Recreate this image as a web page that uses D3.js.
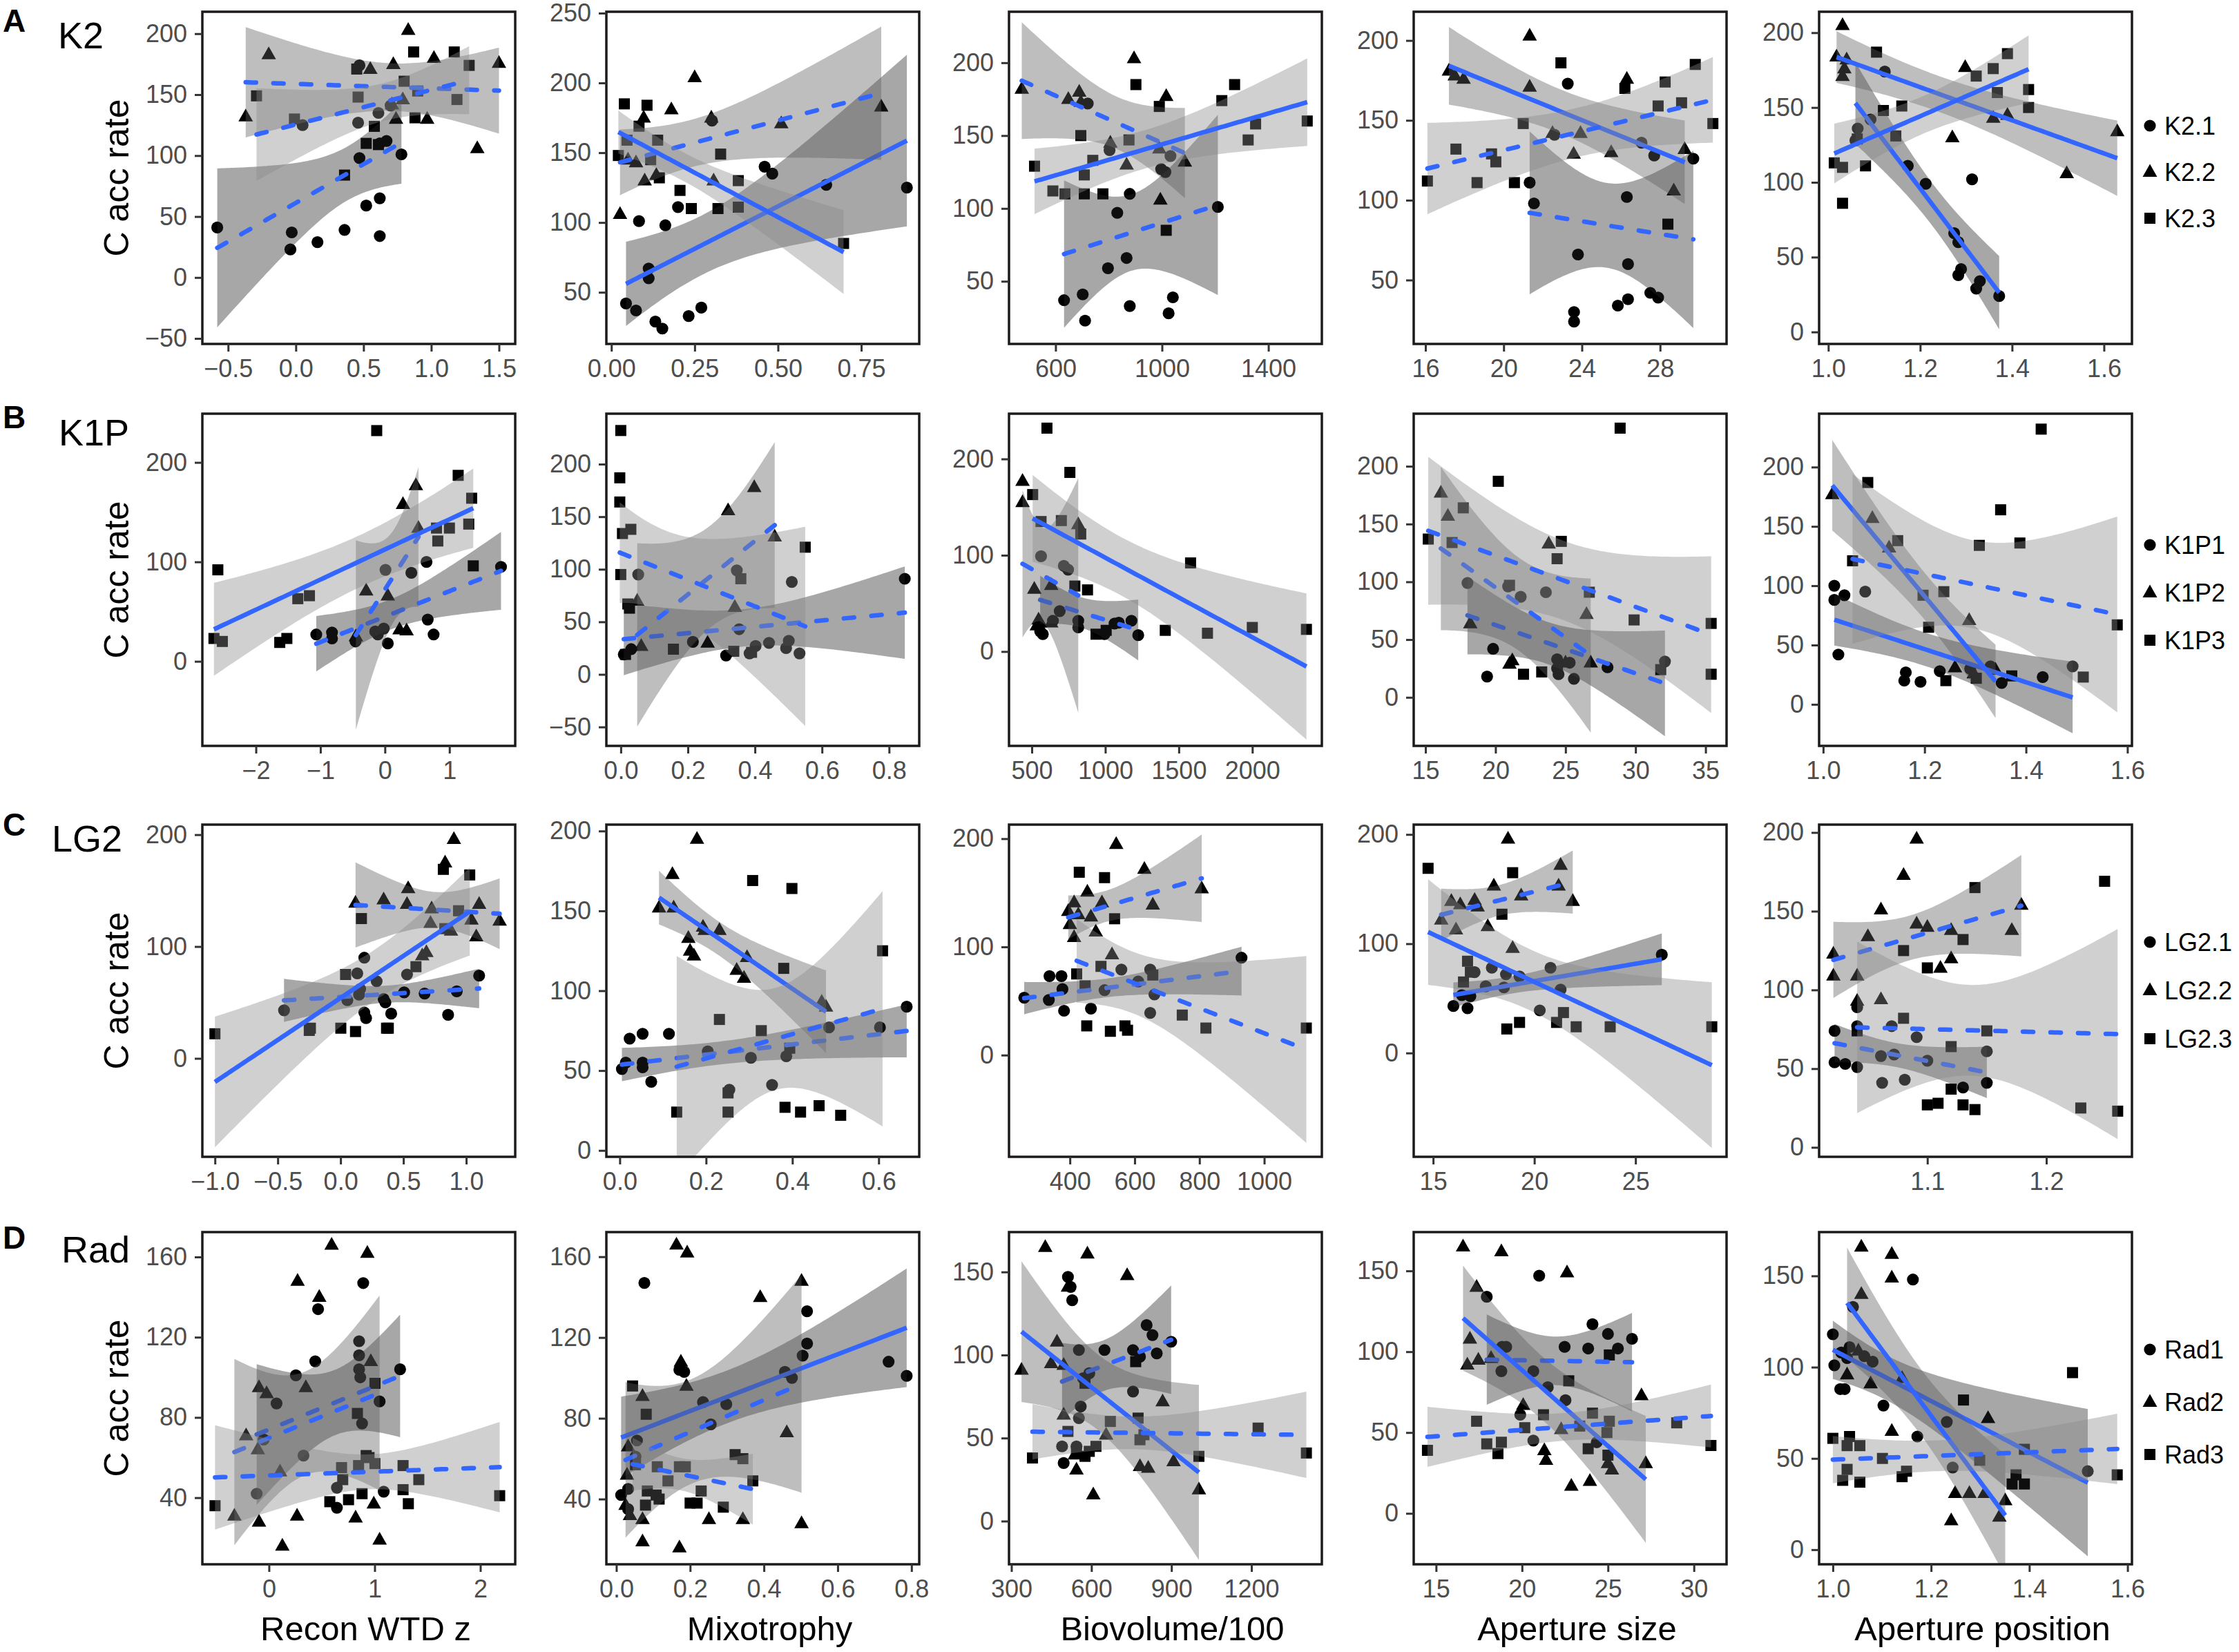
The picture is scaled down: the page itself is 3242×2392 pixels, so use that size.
<!DOCTYPE html>
<html>
<head>
<meta charset="utf-8">
<script src="https://cdn.jsdelivr.net/npm/d3@7"></script>
<style>
body { margin: 0; background: #fff; }
svg { display: block; }
text { font-family: "Liberation Sans", Arial, Helvetica, sans-serif; }
</style>
</head>
<body>
<svg id="chart" width="3242" height="2392"></svg>
<script>
// ---- labels ----
const rowLetters = ["A", "B", "C", "D"];
const rowNames = ["K2", "K1P", "LG2", "Rad"];
const groupLabels = [
    ["K2.1", "K2.2", "K2.3"],
    ["K1P1", "K1P2", "K1P3"],
    ["LG2.1", "LG2.2", "LG2.3"],
    ["Rad1", "Rad2", "Rad3"]
];
const xTitles = ["Recon WTD z", "Mixotrophy", "Biovolume/100", "Aperture size", "Aperture position"];
const yTitle = "C acc rate";

// ---- points, one array per panel: [circles, triangles, squares] ----
const k2_wtd = [
    [[-0.58,41],[-0.03,37],[-0.04,23],[0.16,29],[0.36,39],[0.47,98],[0.52,59],[0.62,65],[0.62,34],[0.78,101],[0.67,112],[0.62,110],[0.46,127],[0.05,125],[0.61,135],[0.47,174],[0.70,141]],
    [[-0.37,132],[-0.20,183],[0.55,171],[0.72,175],[0.83,203],[1.02,180],[1.50,176],[1.34,106],[0.97,130],[0.74,130],[0.79,146],[0.71,142]],
    [[-0.29,149],[-0.01,130],[0.45,171],[0.46,148],[0.58,124],[0.52,110],[0.61,109],[0.36,84],[0.80,161],[0.87,185],[1.17,185],[1.28,174],[1.19,146],[0.88,131],[0.90,153]]
];
const k2_mix = [
    [[0.044,42],[0.074,37],[0.132,29],[0.153,24],[0.232,33],[0.27,39],[0.112,60],[0.112,67],[0.083,101],[0.162,98],[0.302,173],[0.46,140],[0.483,135],[0.645,127],[0.887,125],[0.2,111]],
    [[0.026,106],[0.25,204],[0.18,181],[0.30,175],[0.51,171],[0.81,183],[0.097,175],[0.074,143],[0.10,130],[0.135,134],[0.307,130],[0.05,145]],
    [[0.039,185],[0.107,184],[0.021,148],[0.047,159],[0.083,169],[0.139,159],[0.118,145],[0.144,132],[0.328,149],[0.206,123],[0.24,110],[0.32,110],[0.381,130],[0.381,111],[0.697,85]]
];
const k2_bio = [
    [[632,37],[702,41],[711,23],[797,59],[832,97],[867,66],[879,33],[879,110],[1025,28],[1041,39],[1210,101],[997,127],[1013,125],[721,172],[803,140],[1032,136]],
    [[473,182],[648,175],[689,180],[695,173],[806,145],[867,130],[895,203],[990,141],[1016,177],[994,106],[1086,132]],
    [[521,129],[590,112],[635,110],[708,110],[778,110],[740,133],[708,123],[695,150],[876,147],[902,185],[990,170],[1016,85],[1225,174],[1273,185],[1324,147],[1352,158],[1546,160]]
];
const k2_ap = [
    [[21.33,111],[21.55,98],[23.28,173],[23.8,66],[23.6,30],[23.6,24],[25.84,34],[26.36,38],[26.36,60],[26.3,102],[27.05,136],[27.5,42],[27.9,39],[27.7,128],[29.7,126],[22.6,141]],
    [[17.2,181],[17.95,176],[21.33,203],[21.33,171],[22.5,142],[23.93,142],[23.58,129],[25.5,130],[26.3,176],[28.7,106],[29.26,132],[17.5,178]],
    [[16.1,112],[17.56,132],[18.64,111],[19.38,129],[19.6,124],[20.55,111],[21.0,148],[22.93,186],[26.2,170],[27.9,159],[28.26,174],[28.4,85],[29.1,161],[29.8,185],[30.7,148]]
];
const k2_pos = [
    [[1.064,136],[1.059,128],[1.092,142],[1.123,174],[1.173,111],[1.212,99],[1.313,102],[1.274,66],[1.283,60],[1.289,42],[1.283,38],[1.322,29],[1.33,34],[1.372,24]],
    [[1.031,205],[1.018,184],[1.04,182],[1.031,171],[1.27,130],[1.298,177],[1.359,143],[1.39,145],[1.519,106],[1.629,134],[1.035,176]],
    [[1.013,113],[1.031,110],[1.031,86],[1.081,111],[1.063,129],[1.105,187],[1.12,148],[1.16,151],[1.147,131],[1.322,171],[1.359,176],[1.368,160],[1.39,186],[1.436,162],[1.436,150]]
];

const k1p_wtd = [
    [[-1.064,27],[-0.82,29],[-0.82,23],[-0.455,20],[-0.11,27],[-0.018,33],[0.045,18],[0.664,42],[0.755,27],[0.009,92],[0.41,89],[0.645,100],[1.8,95],[-0.15,30]],
    [[-0.45,25],[-0.29,71],[0.045,66],[0.227,32],[0.28,158],[0.336,31],[0.48,177],[0.52,134]],
    [[-2.59,92],[-2.65,23],[-2.52,20],[-1.63,19],[-1.52,23],[-1.35,63],[-1.17,66],[-0.127,232],[0.8,134],[0.82,121],[1.0,134],[1.136,187],[1.3,138],[1.345,164],[1.37,96]]
];
const k1p_mix = [
    [[0.009,19],[0.031,24],[0.052,95],[0.215,31],[0.314,18],[0.353,43],[0.346,99],[0.384,20],[0.402,27],[0.442,30],[0.493,25],[0.501,32],[0.533,20],[0.51,88],[0.847,91]],
    [[0.049,70],[0.061,27],[0.259,30],[0.32,156],[0.398,178],[0.34,64],[0.459,131]],
    [[0.0,232],[-0.003,187],[-0.003,164],[0.005,134],[0.03,138],[0.0,95],[0.021,67],[0.026,63],[0.014,19],[0.157,24],[0.337,22],[0.358,91],[0.55,121],[0.39,21]]
];
const k1p_bio = [
    [[563,99],[718,89],[747,85],[690,42],[644,32],[575,18],[557,21],[816,32],[816,25],[1063,29],[1092,30],[1178,32],[1224,17],[994,18]],
    [[437,177],[437,155],[517,65],[632,69],[816,132],[534,27],[557,30],[632,30],[546,33]],
    [[603,232],[759,186],[506,163],[563,135],[701,136],[833,122],[793,68],[879,64],[937,18],[1006,22],[1408,22],[1580,92],[1695,19],[2000,25],[2368,23]]
];
const k1p_ap = [
    [[18.0,99],[19.83,42],[19.4,18],[20.9,96],[21.8,87],[23.6,91],[24.4,33],[24.4,25],[24.5,20],[25.6,16],[25.3,30],[28.0,26],[32.1,31]],
    [[16.1,177],[16.6,157],[23.8,133],[26.5,72],[18.2,64],[21.2,32],[21.0,29],[25.0,30],[26.8,30]],
    [[15.2,137],[16.9,134],[17.7,164],[20.2,187],[21.0,97],[22.0,20],[23.3,22],[24.7,135],[24.4,120],[26.7,91],[28.9,233],[29.9,67],[31.8,24],[35.4,64],[35.4,20]]
];
const k1p_pos = [
    [[1.022,100],[1.022,88],[1.042,92],[1.083,95],[1.03,42],[1.163,27],[1.16,20],[1.192,19],[1.23,28],[1.33,32],[1.352,18],[1.433,23],[1.492,32],[1.29,30]],
    [[1.018,177],[1.097,157],[1.13,132],[1.288,71],[1.26,31],[1.297,26],[1.34,29]],
    [[1.058,121],[1.088,187],[1.147,138],[1.197,92],[1.208,65],[1.238,95],[1.242,20],[1.302,22],[1.308,134],[1.35,164],[1.372,24],[1.388,136],[1.43,232],[1.513,23],[1.58,67]]
];

const lg2_wtd = [
    [[-0.45,43],[0.054,52],[0.133,76],[0.147,57],[0.189,90],[0.189,41],[0.203,36],[0.287,69],[0.343,53],[0.357,50],[0.403,40],[0.506,59],[0.529,75],[0.669,58],[0.856,39],[0.925,60],[1.103,74],[0.156,62]],
    [[0.119,139],[0.343,142],[0.538,152],[0.529,138],[0.725,134],[0.716,121],[0.832,175],[0.902,196],[0.879,114],[1.042,124],[1.103,138],[1.08,109],[1.266,123],[0.683,95],[0.65,92]],
    [[-1.0,22],[-0.249,25],[-0.24,27],[0.002,27],[0.119,24],[0.04,75],[0.166,125],[0.366,27],[0.38,27],[0.6,82],[0.818,169],[1.028,164],[0.939,132],[0.83,116]]
];
const lg2_mix = [
    [[0.005,51],[0.014,55],[0.023,70],[0.053,73],[0.053,55],[0.053,52],[0.073,43],[0.114,73],[0.204,62],[0.254,38],[0.304,58],[0.353,41],[0.386,59],[0.485,77],[0.603,77],[0.665,90]],
    [[0.091,152],[0.122,173],[0.125,152],[0.179,195],[0.159,133],[0.163,125],[0.172,122],[0.193,140],[0.197,138],[0.231,138],[0.271,113],[0.295,121],[0.288,108],[0.468,93],[0.478,90]],
    [[0.132,24],[0.231,82],[0.251,36],[0.251,24],[0.308,169],[0.328,75],[0.38,114],[0.383,27],[0.394,64],[0.399,164],[0.419,24],[0.462,28],[0.512,22],[0.609,125]]
];
const lg2_bio = [
    [[259,53],[335,51],[337,73],[374,73],[377,61],[382,41],[465,43],[507,60],[559,79],[611,68],[648,79],[661,56],[648,39],[930,90]],
    [[395,133],[413,141],[400,121],[413,109],[454,151],[465,128],[480,114],[499,141],[543,195],[530,93],[630,172],[656,139],[807,154],[426,130]],
    [[429,169],[507,164],[538,126],[421,75],[447,64],[496,82],[452,27],[525,22],[570,27],[578,23],[656,74],[747,37],[820,25],[1130,25]]
];
const lg2_ap = [
    [[16.0,43],[16.7,41],[16.42,53],[16.84,52],[17.05,74],[17.6,61],[17.9,78],[18.5,60],[18.6,72],[19.27,70],[20.27,39],[20.8,78],[21.3,58],[26.3,90]],
    [[15.4,122],[15.9,139],[16.34,136],[16.13,113],[17.05,140],[17.2,134],[17.7,116],[18.0,153],[18.7,196],[18.93,96],[19.35,144],[21.3,172],[21.2,153],[21.9,139]],
    [[14.75,169],[18.93,165],[18.4,127],[16.7,84],[16.84,74],[16.5,65],[18.64,22],[19.27,28],[21.1,28],[21.44,37],[22.07,24],[23.75,24],[28.77,24]]
];
const lg2_pos = [
    [[1.022,74],[1.022,54],[1.031,53],[1.041,51],[1.041,89],[1.041,77],[1.061,58],[1.072,59],[1.07,77],[1.062,41],[1.081,43],[1.091,70],[1.1,55],[1.13,38],[1.15,41],[1.15,61]],
    [[1.021,123],[1.021,109],[1.041,109],[1.05,134],[1.061,94],[1.061,151],[1.08,173],[1.091,196],[1.091,142],[1.1,140],[1.111,114],[1.12,120],[1.12,138],[1.171,138],[1.179,154],[1.041,93]],
    [[1.041,74],[1.08,82],[1.08,125],[1.1,114],[1.1,27],[1.109,28],[1.12,64],[1.12,37],[1.13,132],[1.13,27],[1.14,24],[1.14,165],[1.15,74],[1.229,25],[1.249,169],[1.26,23]]
];

const rad_wtd = [
    [[-0.116,42],[-0.05,69],[0.072,87],[0.255,101],[0.327,61],[0.438,108],[0.465,134],[0.643,45],[0.643,35],[0.853,118],[0.853,111],[0.853,104],[0.864,100],[0.881,77],[0.892,147],[1.047,88],[1.086,43],[1.241,104]],
    [[-0.327,31],[-0.094,28],[-0.094,95],[-0.022,92],[-0.216,71],[-0.105,64],[0.127,16],[0.105,53],[0.266,31],[0.271,148],[0.349,95],[0.476,140],[0.593,166],[0.82,30],[0.931,162],[0.964,108],[0.992,37],[1.047,19]],
    [[-0.51,36],[0.576,38],[0.687,55],[0.698,49],[0.753,39],[0.848,56],[0.881,42],[0.92,61],[0.947,60],[1.003,57],[1.003,97],[0.837,82],[1.269,56],[1.269,44],[1.319,37],[1.418,49],[2.183,41]]
];
const rad_mix = [
    [[0.013,42],[0.032,45],[0.032,35],[0.052,61],[0.056,69],[0.076,147],[0.171,104],[0.184,103],[0.235,88],[0.256,77],[0.298,87],[0.457,103],[0.476,100],[0.505,111],[0.517,117],[0.517,133],[0.738,108],[0.787,101]],
    [[0.025,37],[0.037,32],[0.029,52],[0.032,66],[0.071,91],[0.071,30],[0.071,19],[0.163,166],[0.171,16],[0.175,108],[0.192,162],[0.19,96],[0.251,30],[0.343,30],[0.39,140],[0.462,73],[0.502,148],[0.502,28]],
    [[0.044,96],[0.081,82],[0.052,57],[0.084,44],[0.079,37],[0.108,42],[0.116,40],[0.111,56],[0.14,49],[0.171,56],[0.187,56],[0.2,38],[0.219,38],[0.23,44],[0.29,36],[0.322,62],[0.343,60],[0.37,49]]
];
const rad_bio = [
    [[512,147],[522,141],[528,133],[553,103],[592,89],[569,86],[560,69],[553,62],[649,103],[756,103],[756,78],[782,99],[807,118],[829,112],[845,101],[899,108],[490,45],[496,35],[544,45]],
    [[338,91],[427,165],[449,95],[471,108],[496,94],[496,64],[512,141],[538,40],[544,31],[585,161],[607,16],[655,52],[734,148],[782,33],[813,32],[867,72],[908,36],[1003,19]],
    [[379,38],[512,54],[544,41],[576,39],[592,42],[617,45],[671,60],[775,62],[782,49],[576,83],[766,96],[1003,39],[1225,56],[1406,41],[797,52]]
];
const rad_ap = [
    [[17.95,134],[18.84,103],[19.08,103],[18.8,88],[19.9,61],[20.66,45],[20.66,88],[21.0,147],[21.5,78],[22.48,103],[22.53,70],[23.85,102],[24.1,117],[25.0,111],[25.58,102],[26.4,108],[24.35,44]],
    [[16.57,165],[18.8,162],[17.36,140],[16.97,108],[16.82,92],[17.46,95],[18.2,96],[20.07,67],[21.3,39],[21.4,33],[22.28,52],[22.62,149],[22.87,17],[23.95,20],[25.0,31],[25.23,27],[26.95,73],[27.2,31]],
    [[14.5,39],[17.36,57],[17.95,43],[18.8,44],[18.6,37],[20.16,53],[21.25,61],[22.72,82],[23.36,54],[24.1,62],[23.85,40],[24.94,50],[25.08,98],[25.08,57],[29.0,56],[30.99,42],[25.0,36]]
];
const rad_pos = [
    [[1.0,118],[1.003,101],[1.015,88],[1.024,88],[1.034,111],[1.029,105],[1.041,133],[1.064,106],[1.081,103],[1.103,79],[1.163,148],[1.172,62],[1.232,70],[1.244,45],[1.519,43],[1.017,108]],
    [[1.058,166],[1.12,162],[1.12,149],[1.058,140],[1.052,109],[1.029,96],[1.077,91],[1.141,94],[1.12,65],[1.241,16],[1.249,31],[1.278,31],[1.309,31],[1.339,18],[1.351,27],[1.316,72]],
    [[1.0,61],[1.034,62],[1.055,57],[1.029,57],[1.029,44],[1.02,38],[1.055,37],[1.101,50],[1.141,40],[1.15,43],[1.266,82],[1.299,49],[1.373,41],[1.39,55],[1.39,36],[1.488,97],[1.579,41],[1.365,36]]
];

// which fits are drawn solid (1) vs dashed (0), per panel [circle, triangle, square]
const solidFits = [
    [[0,0,0],[1,0,1],[0,0,1],[0,1,0],[1,1,1]],
    [[0,0,1],[0,0,0],[0,0,1],[0,0,0],[1,1,0]],
    [[0,0,1],[0,1,0],[0,0,0],[1,0,1],[0,0,0]],
    [[0,0,0],[1,0,0],[0,1,0],[0,1,0],[1,1,0]]
];

// ---- axes ----
const xDomains = [
    [[-0.69,1.62],[-0.015,0.924],[425,1601],[15.4,31.4],[0.98,1.661]],
    [[-2.83,2.02],[-0.043,0.89],[345,2473],[14.16,36.5],[0.992,1.609]],
    [[-1.1,1.39],[-0.031,0.694],[212,1178],[14.04,29.5],[1.009,1.272]],
    [[-0.63,2.33],[-0.027,0.821],[291,1464],[13.7,31.9],[0.972,1.609]]
];
const yDomains = [
    [[-54.5,218],[13,251],[7,235],[10,218],[-8,214]],
    [[-85,249],[-68,248],[-98,247],[-42,245.5],[-35,245]],
    [[-88,209],[-4,204],[-94,213],[-95,209],[-6,205]],
    [[6.8,172.4],[7.7,172.2],[-26,174],[-31.5,174],[-8,174]]
];
const xTicks = [
    [[-0.5,0,0.5,1,1.5],[0,0.25,0.5,0.75],[600,1000,1400],[16,20,24,28],[1.0,1.2,1.4,1.6]],
    [[-2,-1,0,1],[0,0.2,0.4,0.6,0.8],[500,1000,1500,2000],[15,20,25,30,35],[1.0,1.2,1.4,1.6]],
    [[-1,-0.5,0,0.5,1],[0,0.2,0.4,0.6],[400,600,800,1000],[15,20,25],[1.1,1.2]],
    [[0,1,2],[0,0.2,0.4,0.6,0.8],[300,600,900,1200],[15,20,25,30],[1.0,1.2,1.4,1.6]]
];
const xFormats = [
    [".1f", ".2f", "d", "d", ".1f"],
    ["d", ".1f", "d", "d", ".1f"],
    [".1f", ".1f", "d", "d", ".1f"],
    ["d", ".1f", "d", "d", ".1f"]
];
const yTicks = [
    [[-50,0,50,100,150,200],[50,100,150,200,250],[50,100,150,200],[50,100,150,200],[0,50,100,150,200]],
    [[0,100,200],[-50,0,50,100,150,200],[0,100,200],[0,50,100,150,200],[0,50,100,150,200]],
    [[0,100,200],[0,50,100,150,200],[0,100,200],[0,100,200],[0,50,100,150,200]],
    [[40,80,120,160],[40,80,120,160],[0,50,100,150],[0,50,100,150],[0,50,100,150]]
];

const panelData = [
    [k2_wtd, k2_mix, k2_bio, k2_ap, k2_pos],
    [k1p_wtd, k1p_mix, k1p_bio, k1p_ap, k1p_pos],
    [lg2_wtd, lg2_mix, lg2_bio, lg2_ap, lg2_pos],
    [rad_wtd, rad_mix, rad_bio, rad_ap, rad_pos]
];

// ---- layout ----
const panelLeft = [293, 878, 1461, 2047, 2634];
const rowTop = [17, 599, 1194, 1784];
const panelW = 453, panelH = 481;
const blue = "#3366FF";
const bandFill = ["rgba(34,34,34,0.4)", "rgba(92,92,92,0.4)", "rgba(138,138,138,0.4)"];
const letterPos = [[4, 46], [4, 620], [4, 1210], [4, 1808]];
const namePos = [[84, 70], [85, 645], [75, 1233], [89, 1828]];
const legendMid = [249, 858, 1434, 2030];
const legendGap = [67, 69, 70, 76];

const svg = d3.select("#chart");
svg.append("rect").attr("width", 3242).attr("height", 2392).attr("fill", "#fff");

// 95% t quantile (Cornish-Fisher expansion)
function tq975(df) {
    const z = 1.959964;
    return z + (z ** 3 + z) / (4 * df)
        + (5 * z ** 5 + 16 * z ** 3 + 3 * z) / (96 * df ** 2)
        + (3 * z ** 7 + 19 * z ** 5 + 17 * z ** 3 - 15 * z) / (384 * df ** 3)
        + (79 * z ** 9 + 776 * z ** 7 + 1482 * z ** 5 - 1920 * z ** 3 - 945 * z) / (92160 * df ** 4);
}

// lm fit with 95% confidence band, like geom_smooth(method = "lm")
function lmBand(pts) {
    let n = pts.length;
    let mx = d3.mean(pts, p => p[0]);
    let my = d3.mean(pts, p => p[1]);
    let sxx = d3.sum(pts, p => (p[0] - mx) ** 2);
    let sxy = d3.sum(pts, p => (p[0] - mx) * (p[1] - my));
    let b = sxy / sxx;
    let a = my - b * mx;
    let s2 = d3.sum(pts, p => (p[1] - a - b * p[0]) ** 2) / (n - 2);
    let t = tq975(n - 2);
    let [x0, x1] = d3.extent(pts, p => p[0]);
    return d3.range(80).map(i => {
        let x = x0 + (x1 - x0) * i / 79;
        let fit = a + b * x;
        let se = Math.sqrt(s2 * (1 / n + (x - mx) ** 2 / sxx));
        return { x: x, fit: fit, lo: fit - t * se, hi: fit + t * se };
    });
}

function drawShape(sel, k, cx, cy) {
    if (k === 0) {
        sel.append("circle").attr("cx", cx).attr("cy", cy).attr("r", 8.6).attr("fill", "#000");
    } else if (k === 1) {
        sel.append("path")
            .attr("d", `M${cx},${cy - 11.5}L${cx + 10.5},${cy + 7}L${cx - 10.5},${cy + 7}Z`)
            .attr("fill", "#000");
    } else {
        sel.append("rect").attr("x", cx - 8).attr("y", cy - 8)
            .attr("width", 16).attr("height", 16).attr("fill", "#000");
    }
}

for (let r = 0; r < 4; r++) {
    for (let c = 0; c < 5; c++) {
        let g = svg.append("g").attr("transform", `translate(${panelLeft[c]},${rowTop[r]})`);
        let x = d3.scaleLinear().domain(xDomains[r][c]).range([0, panelW]);
        let y = d3.scaleLinear().domain(yDomains[r][c]).range([panelH, 0]);
        let groups = panelData[r][c];

        let clipId = `clip-${r}-${c}`;
        g.append("clipPath").attr("id", clipId)
            .append("rect").attr("width", panelW).attr("height", panelH);
        let plot = g.append("g").attr("clip-path", `url(#${clipId})`);

        // points first, the ribbons lie over them
        groups.forEach((pts, k) => {
            pts.forEach(p => drawShape(plot, k, x(p[0]), y(p[1])));
        });

        // each group: ribbon then its fit line
        groups.forEach((pts, k) => {
            let band = lmBand(pts);
            plot.append("path")
                .datum(band)
                .attr("fill", bandFill[k])
                .attr("d", d3.area().x(d => x(d.x)).y0(d => y(d.lo)).y1(d => y(d.hi)));
            let solid = solidFits[r][c][k] === 1;
            plot.append("path")
                .datum(band)
                .attr("fill", "none")
                .attr("stroke", blue)
                .attr("stroke-width", 6.5)
                .attr("stroke-linecap", solid ? "butt" : "round")
                .attr("stroke-dasharray", solid ? null : "15 25")
                .attr("d", d3.line().x(d => x(d.x)).y(d => y(d.fit)));
        });

        // frame
        g.append("rect")
            .attr("width", panelW).attr("height", panelH)
            .attr("fill", "none").attr("stroke", "#1e1a1b").attr("stroke-width", 3.5);

        // axes
        let fmt = d3.format(xFormats[r][c]);
        let xa = g.append("g").attr("transform", `translate(0,${panelH})`)
            .call(d3.axisBottom(x).tickValues(xTicks[r][c]).tickFormat(fmt).tickSize(11).tickPadding(11));
        let ya = g.append("g")
            .call(d3.axisLeft(y).tickValues(yTicks[r][c]).tickFormat(d3.format("d")).tickSize(11).tickPadding(11));
        [xa, ya].forEach(a => {
            a.select(".domain").remove();
            a.selectAll(".tick line").attr("stroke", "#333").attr("stroke-width", 3);
            a.selectAll(".tick text")
                .attr("fill", "#4d4d4d")
                .style("font-size", "36px")
                .style("font-family", '"Liberation Sans", Arial, sans-serif');
        });

        if (c === 0) {
            svg.append("text")
                .attr("transform", `translate(186,${rowTop[r] + panelH / 2}) rotate(-90)`)
                .attr("text-anchor", "middle")
                .style("font-size", "50px")
                .attr("fill", "#000")
                .text(yTitle);
        }
        if (r === 3) {
            svg.append("text")
                .attr("x", panelLeft[c] + panelW / 2 + 10)
                .attr("y", 2375)
                .attr("text-anchor", "middle")
                .style("font-size", "49px")
                .attr("fill", "#000")
                .text(xTitles[c]);
        }
    }

    // row letter and row name
    svg.append("text")
        .attr("x", letterPos[r][0]).attr("y", letterPos[r][1])
        .style("font-size", "46px").style("font-weight", "bold")
        .text(rowLetters[r]);
    svg.append("text")
        .attr("x", namePos[r][0]).attr("y", namePos[r][1])
        .style("font-size", "54px")
        .text(rowNames[r]);

    // legend
    let lg = svg.append("g");
    groupLabels[r].forEach((lab, k) => {
        let cy = legendMid[r] + (k - 1) * legendGap[r];
        drawShape(lg, k, 3113, cy);
        lg.append("text")
            .attr("x", 3134).attr("y", cy)
            .attr("dominant-baseline", "central")
            .style("font-size", "36px")
            .attr("fill", "#000")
            .text(lab);
    });
}
</script>
</body>
</html>
